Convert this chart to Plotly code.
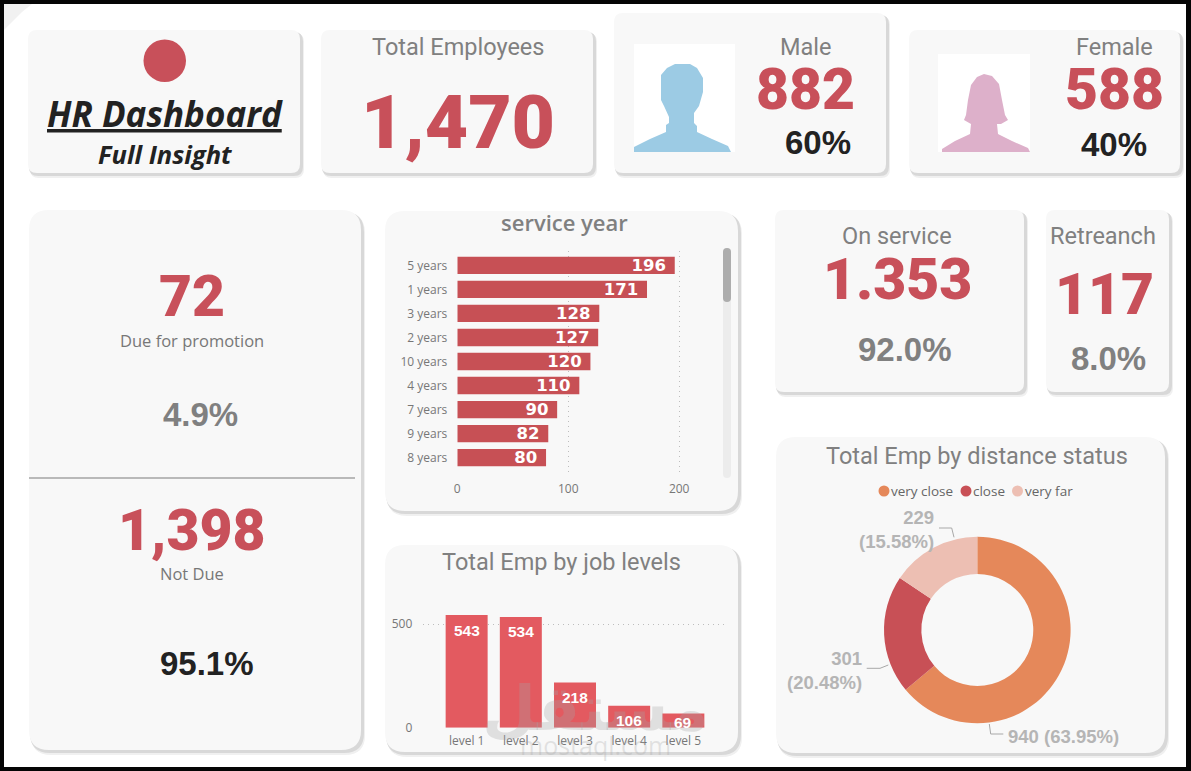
import plotly.graph_objects as go

W, H = 1191, 771

# ---- data ----
total_employees = "1,470"
male_count, male_share = "882", "60%"
female_count, female_share = "588", "40%"
promo_due, promo_due_share = "72", "4.9%"
promo_not_due, promo_not_due_share = "1,398", "95.1%"
on_service, on_service_share = "1.353", "92.0%"
retrench, retrench_share = "117", "8.0%"

service_years = ["5 years", "1 years", "3 years", "2 years", "10 years", "4 years", "7 years", "9 years", "8 years"]
service_counts = [196, 171, 128, 127, 120, 110, 90, 82, 80]

job_levels = ["level 1", "level 2", "level 3", "level 4", "level 5"]
job_counts = [543, 534, 218, 106, 69]

distance_names = ["very close", "close", "very far"]
distance_counts = [940, 301, 229]
distance_labels = ["940 (63.95%)", "301<br>(20.48%)", "229<br>(15.58%)"]
distance_colors = ["#E5885A", "#C85056", "#EDBFB3"]

RED = "#C8505A"
GREY = "#808080"
DARK = "#222222"
TITLE_FONT = "Roboto"
BODY_FONT = "Open Sans"
NUM_FONT = "Roboto"
ARIAL = "Liberation Sans"


def px(x):
    return x / W


def py(y):
    return 1 - y / H


shapes = []
annotations = []


def rounded_path(x0, y0, x1, y1, r):
    return (
        f"M {px(x0 + r)} {py(y0)} L {px(x1 - r)} {py(y0)} "
        f"Q {px(x1)} {py(y0)} {px(x1)} {py(y0 + r)} L {px(x1)} {py(y1 - r)} "
        f"Q {px(x1)} {py(y1)} {px(x1 - r)} {py(y1)} L {px(x0 + r)} {py(y1)} "
        f"Q {px(x0)} {py(y1)} {px(x0)} {py(y1 - r)} L {px(x0)} {py(y0 + r)} "
        f"Q {px(x0)} {py(y0)} {px(x0 + r)} {py(y0)} Z"
    )


def add_path(path, fill=None, line=None, width=1, layer="below"):
    shapes.append(dict(
        type="path", path=path, xref="paper", yref="paper", layer=layer,
        fillcolor=fill if fill else "rgba(0,0,0,0)",
        line=dict(color=line if line else "rgba(0,0,0,0)", width=width),
    ))


def card(x0, y0, x1, y1, r=9):
    # soft drop shadow then the card body
    add_path(rounded_path(x0 + 2, y0 + 3, x1 + 4, y1 + 5, r), fill="#f0f0f0")
    add_path(rounded_path(x0 + 1, y0 + 2, x1 + 3, y1 + 3, r), fill="#d8d8d8")
    add_path(rounded_path(x0, y0, x1, y1, r), fill="#F8F8F8")


def poly(points, fill):
    p = "M " + " L ".join(f"{px(x)} {py(y)}" for x, y in points) + " Z"
    add_path(p, fill=fill)


def line(points, color="#a8a8a8", width=1):
    p = "M " + " L ".join(f"{px(x)} {py(y)}" for x, y in points)
    add_path(p, line=color, width=width, layer="above")


def label(text, x, y, size, color=GREY, family=TITLE_FONT, weight=None, anchor="center", style=None, under=False):
    font = dict(size=size, color=color, family=family)
    if weight:
        font["weight"] = weight
    if style:
        font["style"] = style
    if under:
        font["lineposition"] = "under"
    annotations.append(dict(
        text=text, x=px(x), y=py(y), xref="paper", yref="paper",
        xanchor=anchor, yanchor="middle", align=anchor, showarrow=False, font=font,
    ))


# ---- frame ----
shapes.append(dict(type="rect", xref="paper", yref="paper", layer="below",
                   x0=px(4), x1=px(1186), y0=py(4), y1=py(767),
                   fillcolor="white", line=dict(width=0)))
poly([(4, 4), (32, 4), (22, 12), (4, 30)], "#f1f1f1")

# ---- cards ----
card(28, 30, 300, 173)
card(321, 30, 593, 173)
card(614, 13, 886, 173)
card(909, 30, 1180, 173)
card(29, 210, 361, 750, r=20)
card(385, 211, 738, 511, r=20)
card(385, 545, 738, 752, r=20)
card(775, 210, 1024, 392)
card(1046, 210, 1169, 392)
card(776, 437, 1165, 753, r=20)

# divider in the promotion card
shapes.append(dict(type="line", xref="paper", yref="paper", layer="below",
                   x0=px(29), x1=px(355), y0=py(478), y1=py(478),
                   line=dict(color="#b9b9b9", width=2)))

# logo dot
shapes.append(dict(type="circle", xref="paper", yref="paper", layer="below",
                   x0=px(143.5), x1=px(186), y0=py(39.5), y1=py(82),
                   fillcolor="#C8505A", line=dict(width=0)))

# person icons
shapes.append(dict(type="rect", xref="paper", yref="paper", layer="below",
                   x0=px(634), x1=px(735), y0=py(44), y1=py(152),
                   fillcolor="white", line=dict(width=0)))
shapes.append(dict(type="rect", xref="paper", yref="paper", layer="below",
                   x0=px(938), x1=px(1030), y0=py(54), y1=py(152),
                   fillcolor="white", line=dict(width=0)))
poly([(634, 152), (634, 147), (650, 139), (666, 132), (666, 125), (669, 123), (669, 117),
      (664, 106), (661, 100), (661, 75), (667, 68), (675, 64), (690, 64), (697, 68),
      (703, 78), (703, 92), (699, 106), (694, 113), (694, 123), (697, 126), (697, 132),
      (712, 139), (728, 146), (731, 152)], "#9CCBE4")
poly([(942, 152), (942, 149), (955, 141), (970, 134), (971, 124), (964, 120), (966, 115),
      (968, 100), (971, 85), (977, 77), (984, 74), (992, 76), (999, 84), (1002, 100),
      (1005, 115), (1008, 120), (1001, 124), (997, 124), (998, 134), (1012, 141),
      (1028, 148), (1030, 152)], "#DDB0CA")

# scrollbar of the service year visual
add_path(rounded_path(723, 248, 731, 478, 4), fill="#ececec")
add_path(rounded_path(723, 248, 731, 302, 4), fill="#adadad")

# ---- card texts ----
label("HR Dashboard", 165, 113, 35, DARK, BODY_FONT, 700, style="italic", under=True)
label("Full Insight", 165, 154, 25.5, DARK, BODY_FONT, 700, style="italic")

label("Total Employees", 458, 47, 23.5)
label(total_employees, 458, 122, 75, RED, NUM_FONT, 900)

label("Male", 805, 47, 23.5)
label(male_count, 805, 89, 57, RED, NUM_FONT, 900)
label(male_share, 818, 142, 33, DARK, ARIAL, 700)

label("Female", 1114, 47, 23.5)
label(female_count, 1114, 89, 57, RED, NUM_FONT, 900)
label(female_share, 1114, 144, 33, DARK, ARIAL, 700)

label(promo_due, 192, 296, 57, RED, NUM_FONT, 900)
label("Due for promotion", 192, 340, 16.5, "#777777", BODY_FONT)
label(promo_due_share, 200, 414, 33, GREY, ARIAL, 700)
label(promo_not_due, 192, 530, 57, RED, NUM_FONT, 900)
label("Not Due", 192, 573, 16.5, "#777777", BODY_FONT)
label(promo_not_due_share, 207, 663, 33, DARK, ARIAL, 700)

label("service year", 564, 222, 22, GREY, BODY_FONT, 600)
label("Total Emp by job levels", 561, 562, 23.5)

label("On service", 897, 236, 23.5)
label(on_service, 897, 279, 57, RED, NUM_FONT, 900)
label(on_service_share, 905, 350, 33, GREY, ARIAL, 700)

label("Retreanch", 1103, 236, 23.5)
label(retrench, 1104, 294, 57, RED, NUM_FONT, 900)
label(retrench_share, 1108, 358, 33, GREY, ARIAL, 700)

label("Total Emp by distance status", 977, 456, 23.5)

# donut legend
legend_dots = [884, 966, 1017.5]
for name, color, cx in zip(distance_names, distance_colors, legend_dots):
    shapes.append(dict(type="circle", xref="paper", yref="paper", layer="below",
                       x0=px(cx - 5.5), x1=px(cx + 5.5), y0=py(485.5), y1=py(496.5),
                       fillcolor=color, line=dict(width=0)))
    label(name, cx + 5, 491, 13.5, "#666666", BODY_FONT, anchor="left")

# donut labels and leader lines
DONUT_LABEL = "#b5b5b5"
label(distance_labels[0], 1006, 736, 18.5, DONUT_LABEL, ARIAL, 700, anchor="left")
label(distance_labels[1], 864, 670, 18.5, DONUT_LABEL, ARIAL, 700, anchor="right")
label(distance_labels[2], 936, 529, 18.5, DONUT_LABEL, ARIAL, 700, anchor="right")
line([(989.3, 724), (990.7, 734), (1003.3, 734)])
line([(866.7, 668.3), (880, 668.3), (888.3, 665)])
line([(939, 528), (951.7, 528), (954, 537.3)])

# watermark
label("مستقل", 595, 708, 62, "rgba(165,165,165,0.3)", "DejaVu Sans", 700)
label("mostaql.com", 595, 745, 25, "rgba(165,165,165,0.28)", BODY_FONT)

# column labels sit a fixed drop under the bar top
for level, count in zip(job_levels, job_counts):
    annotations.append(dict(
        text=str(count), x=level, y=count, xref="x2", yref="y2",
        yshift=-15 if count >= 100 else -9, yanchor="middle", showarrow=False,
        font=dict(family=ARIAL, size=15.5, color="white", weight=700),
    ))

# ---- traces ----
fig = go.Figure()

fig.add_trace(go.Bar(
    x=service_counts, y=service_years, orientation="h", xaxis="x", yaxis="y",
    marker=dict(color="#C75055", line=dict(width=0)), width=0.72,
    texttemplate="%{x}\u00a0", textposition="inside", insidetextanchor="end",
    textangle=0, constraintext="none",
    textfont=dict(family="DejaVu Sans", size=16.5, color="white", weight=700),
    hoverinfo="skip",
))

fig.add_trace(go.Bar(
    x=job_levels, y=job_counts, xaxis="x2", yaxis="y2",
    marker=dict(color="#E35A60", line=dict(width=0)), width=0.775,
    hoverinfo="skip",
))

fig.add_trace(go.Pie(
    labels=distance_names, values=distance_counts, hole=0.6, sort=False,
    direction="clockwise", rotation=0, textinfo="none", showlegend=False,
    marker=dict(colors=distance_colors, line=dict(width=0)),
    domain=dict(x=[px(977.3 - 93.3), px(977.3 + 93.3)], y=[py(630 + 93.3), py(630 - 93.3)]),
    hoverinfo="skip",
))

tick_font = dict(family=BODY_FONT, size=12, color="#777777")
GRID_DOT = "1px,4px"

fig.update_layout(
    width=W, height=H, margin=dict(l=0, r=0, t=0, b=0),
    paper_bgcolor="#050505", plot_bgcolor="rgba(0,0,0,0)",
    showlegend=False, bargap=0.2,
    shapes=shapes, annotations=annotations,
    xaxis=dict(domain=[px(457.3), px(723)], range=[0, 239.5], tickvals=[0, 100, 200],
               showgrid=True, griddash=GRID_DOT, gridcolor="#bdbdbd", gridwidth=1,
               zeroline=False, showline=False, ticks="", tickfont=tick_font,
               ticklabelstandoff=8, anchor="y", automargin=False),
    yaxis=dict(domain=[py(472), py(251)], range=[8.6, -0.6], type="category",
               categoryorder="array", categoryarray=service_years,
               showgrid=False, zeroline=False, showline=False, ticks="", tickfont=tick_font,
               ticklabelstandoff=9, anchor="x", automargin=False),
    xaxis2=dict(domain=[px(423.3), px(726.7)], range=[-0.8, 4.8], type="category",
                categoryorder="array", categoryarray=job_levels,
                showgrid=False, zeroline=False, showline=False, ticks="", tickfont=tick_font,
                ticklabelstandoff=4, anchor="y2", automargin=False),
    yaxis2=dict(domain=[py(727.7), py(603.3)], range=[0, 600], tickvals=[0, 500],
                showgrid=True, griddash=GRID_DOT, gridcolor="#bdbdbd", gridwidth=1,
                zeroline=False, showline=False, ticks="", tickfont=tick_font,
                ticklabelstandoff=10, anchor="x2", automargin=False),
)

fig.write_html(
    "out.html",
    config={"displayModeBar": False},
    post_script="var gd=document.getElementById('{plot_id}');"
                "gd.style.position='fixed';gd.style.left='0';gd.style.top='0';"
                "document.body.style.margin='0';",
)
